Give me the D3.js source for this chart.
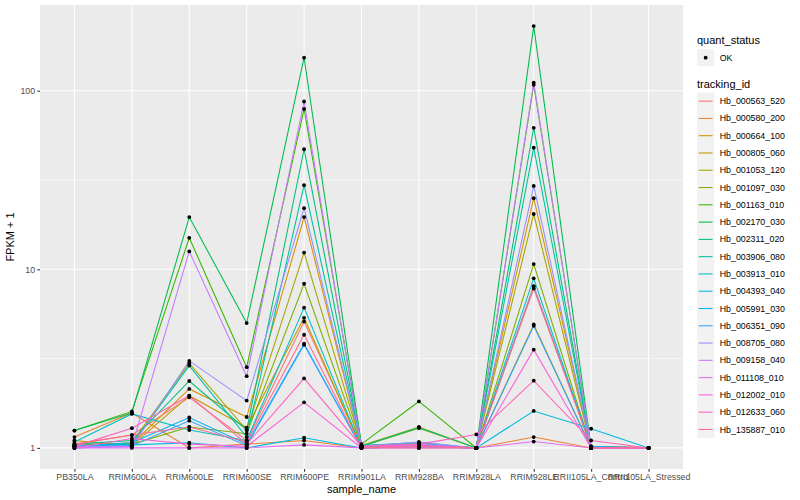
<!DOCTYPE html>
<html><head><meta charset="utf-8">
<script src="https://cdn.jsdelivr.net/npm/d3@7/dist/d3.min.js"></script>
<style>body{margin:0;background:#fff}svg{display:block}text{font-family:"Liberation Sans",Arial,sans-serif}</style>
</head><body><svg id="c" width="800" height="500"></svg>
<script>
const samples = ["PB350LA","RRIM600LA","RRIM600LE","RRIM600SE","RRIM600PE","RRIM901LA","RRIM928BA","RRIM928LA","RRIM928LE","RRII105LA_Control","RRII105LA_Stressed"];
const trackingIds = ["Hb_000563_520","Hb_000580_200","Hb_000664_100","Hb_000805_060","Hb_001053_120","Hb_001097_030","Hb_001163_010","Hb_002170_030","Hb_002311_020","Hb_003906_080","Hb_003913_010","Hb_004393_040","Hb_005991_030","Hb_006351_090","Hb_008705_080","Hb_009158_040","Hb_011108_010","Hb_012002_010","Hb_012633_060","Hb_135887_010"];
const colors = ["#F8766D","#EA8331","#D89000","#C09B00","#A3A500","#7CAE00","#39B600","#00BB4E","#00BF7D","#00C1A3","#00BFC4","#00BAE0","#00B0F6","#35A2FF","#9590FF","#C77CFF","#E76BF3","#FA62DB","#FF62BC","#FF6C91"];
// FPKM + 1 values, one array per tracking_id, in sample order
const v000563_520 = [1.05,1.18,1.92,1.10,5.1,1.02,1.05,1.0,7.8,1.02,1.0];
const v000580_200 = [1.15,1.57,1.0,1.05,1.10,1.0,1.0,1.0,1.15,1.0,1.0];
const v000664_100 = [1.05,1.05,2.14,1.49,19.6,1.02,1.05,1.0,25,1.02,1.0];
const v000805_060 = [1.10,1.03,1.96,1.30,5.35,1.0,1.03,1.0,4.91,1.0,1.0];
const v001053_120 = [1.03,1.07,2.97,1.26,12.4,1.03,1.31,1.0,20.4,1.0,1.0];
const v001097_030 = [1.02,1.05,1.31,1.20,8.3,1.02,1.29,1.0,10.7,1.0,1.0];
const v001163_010 = [1.25,1.60,15,2.83,79,1.05,1.82,1.0,108,1.0,1.0];
const v002170_030 = [1.25,1.57,19.6,5.0,153,1.03,1.05,1.0,230,1.0,1.0];
const v002311_020 = [1.05,1.10,2.37,1.26,47,1.02,1.30,1.0,62,1.0,1.0];
const v003906_080 = [1.03,1.05,2.89,1.15,29.6,1.03,1.07,1.0,48,1.0,1.0];
const v003913_010 = [1.08,1.55,1.26,1.10,6.1,1.0,1.05,1.0,8.9,1.0,1.0];
const v004393_040 = [1.03,1.04,1.07,1.0,1.14,1.0,1.02,1.0,1.61,1.28,1.0];
const v005991_030 = [1.02,1.07,1.48,1.05,3.83,1.0,1.02,1.0,8.06,1.02,1.0];
const v006351_090 = [1.0,1.03,1.42,1.03,3.78,1.0,1.02,1.0,4.83,1.0,1.0];
const v008705_080 = [1.02,1.02,3.07,1.84,22,1.02,1.08,1.0,29.3,1.0,1.0];
const v009158_040 = [1.0,1.02,12.6,2.52,87,1.0,1.05,1.0,111,1.0,1.0];
const v011108_010 = [1.0,1.0,1.0,1.0,1.04,1.0,1.0,1.0,1.085,1.0,1.0];
const v012002_010 = [1.0,1.13,1.05,1.02,1.8,1.0,1.03,1.0,3.55,1.0,1.0];
const v012633_060 = [1.02,1.29,1.96,1.05,2.45,1.02,1.05,1.19,2.38,1.10,1.0];
const v135887_010 = [1.05,1.18,1.31,1.08,4.3,1.0,1.02,1.0,8.0,1.0,1.0];
const seriesValues = [v000563_520,v000580_200,v000664_100,v000805_060,v001053_120,v001097_030,v001163_010,v002170_030,v002311_020,v003906_080,v003913_010,v004393_040,v005991_030,v006351_090,v008705_080,v009158_040,v011108_010,v012002_010,v012633_060,v135887_010];
const yTicks = [1,10,100];
const yMinor = [Math.pow(10,0.5),Math.pow(10,1.5),Math.pow(10,2.5)];

const series = trackingIds.map((id,i)=>({id,color:colors[i],values:seriesValues[i].map((v,j)=>({s:samples[j],v}))}));

const svg = d3.select("#c");
const L=40, R=683, T=5, B=469;
const x = d3.scalePoint().domain(samples).range([L,R]).padding(0.6);
const all = seriesValues.flat();
const lo = Math.log10(d3.min(all)), hi = Math.log10(d3.max(all)), pad=(hi-lo)*0.05;
const y = d3.scaleLog().domain([Math.pow(10,lo-pad),Math.pow(10,hi+pad)]).range([B,T]);

svg.append("rect").attr("x",L).attr("y",T).attr("width",R-L).attr("height",B-T).attr("fill","#EBEBEB");
const g = svg.append("g");
yMinor.filter(t=>y(t)>=T&&y(t)<=B).forEach(t=>g.append("line").attr("x1",L).attr("x2",R).attr("y1",y(t)).attr("y2",y(t)).attr("stroke","#fff").attr("stroke-width",0.53));
yTicks.forEach(t=>g.append("line").attr("x1",L).attr("x2",R).attr("y1",y(t)).attr("y2",y(t)).attr("stroke","#fff").attr("stroke-width",1.07));
samples.forEach(s=>g.append("line").attr("x1",x(s)).attr("x2",x(s)).attr("y1",T).attr("y2",B).attr("stroke","#fff").attr("stroke-width",1.07));

const line = d3.line().x(d=>x(d.s)).y(d=>y(d.v));
svg.append("g").selectAll("path").data(series).join("path")
  .attr("d",d=>line(d.values)).attr("fill","none").attr("stroke",d=>d.color).attr("stroke-width",1.07);
svg.append("g").selectAll("circle").data(series.flatMap(d=>d.values)).join("circle")
  .attr("cx",d=>x(d.s)).attr("cy",d=>y(d.v)).attr("r",1.9).attr("fill","#000");

// axes
const ya = svg.append("g").attr("transform",`translate(${L},0)`).call(d3.axisLeft(y).tickValues(yTicks).tickFormat(d3.format("d")).tickSize(2.7).tickPadding(2.2));
const xa = svg.append("g").attr("transform",`translate(0,${B})`).call(d3.axisBottom(x).tickSize(2.7).tickPadding(2.2));
[ya,xa].forEach(a=>{a.select(".domain").remove();a.selectAll(".tick line").attr("stroke","#333").attr("stroke-width",1.07);a.selectAll(".tick text").attr("fill","#4D4D4D").attr("font-size","8.8px").style("font-family","'Liberation Sans',Arial,sans-serif");});
svg.append("text").attr("x",(L+R)/2).attr("y",493).attr("text-anchor","middle").attr("font-size","11px").text("sample_name");
svg.append("text").attr("transform",`translate(14,${(T+B)/2}) rotate(-90)`).attr("text-anchor","middle").attr("font-size","11px").text("FPKM + 1");

// legend
const lx=697, ks=17.28;
svg.append("text").attr("x",lx).attr("y",44).attr("font-size","11px").text("quant_status");
svg.append("rect").attr("x",lx).attr("y",49).attr("width",ks).attr("height",ks).attr("fill","#F2F2F2");
svg.append("circle").attr("cx",lx+ks/2).attr("cy",49+ks/2).attr("r",1.9).attr("fill","#000");
svg.append("text").attr("x",lx+ks+5.5).attr("y",49+ks/2).attr("dy","0.35em").attr("font-size","8.8px").text("OK");
svg.append("text").attr("x",lx).attr("y",88).attr("font-size","11px").text("tracking_id");
const lg = svg.append("g").selectAll("g").data(series).join("g").attr("transform",(d,i)=>`translate(${lx},${92.5+i*ks})`);
lg.append("rect").attr("width",ks).attr("height",ks).attr("fill","#F2F2F2");
lg.append("line").attr("x1",1.7).attr("x2",ks-1.7).attr("y1",ks/2).attr("y2",ks/2).attr("stroke",d=>d.color).attr("stroke-width",1.07);
lg.append("text").attr("x",ks+5.5).attr("y",ks/2).attr("dy","0.35em").attr("font-size","8.8px").text(d=>d.id);
</script></body></html>
